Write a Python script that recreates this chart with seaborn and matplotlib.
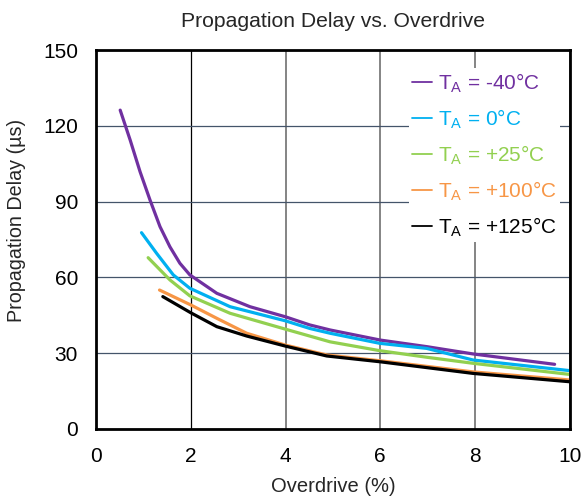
import numpy as np
import pandas as pd
import seaborn as sns
import matplotlib
matplotlib.use("Agg")
import matplotlib.pyplot as plt

# ---- data ----
x_m40 = [0.51, 0.72, 0.93, 1.14, 1.35, 1.56, 1.77, 1.98, 2.55, 3.25, 4.0, 4.51, 4.94, 6.0, 6.98, 7.96, 9.68]
y_m40 = [126.2, 114.4, 101.8, 90.6, 80.1, 72.1, 65.6, 61.0, 53.7, 48.4, 44.4, 41.2, 39.2, 35.2, 32.6, 29.7, 25.6]

x_0 = [0.96, 1.28, 1.63, 1.98, 2.83, 4.0, 4.51, 4.94, 5.99, 6.98, 7.96, 10.0]
y_0 = [77.7, 69.5, 61.0, 55.7, 48.4, 42.8, 39.8, 37.9, 33.9, 31.9, 27.3, 23.1]

x_25 = [1.10, 1.56, 1.98, 2.83, 4.0, 4.94, 5.99, 6.98, 7.96, 10.0]
y_25 = [67.8, 59.0, 52.7, 45.8, 39.5, 34.5, 31.0, 28.4, 26.0, 21.6]

x_100 = [1.34, 2.0, 2.55, 3.18, 4.0, 4.87, 6.0, 7.96, 10.0]
y_100 = [55.0, 49.1, 43.8, 37.9, 33.2, 29.3, 27.0, 22.6, 19.4]

x_125 = [1.41, 2.0, 2.55, 3.18, 4.0, 4.87, 6.0, 7.96, 10.0]
y_125 = [52.4, 46.0, 40.5, 36.8, 32.8, 28.9, 26.6, 22.0, 18.7]

labels = [r"T$_\mathregular{A}$ = -40°C", r"T$_\mathregular{A}$ = 0°C",
          r"T$_\mathregular{A}$ = +25°C", r"T$_\mathregular{A}$ = +100°C",
          r"T$_\mathregular{A}$ = +125°C"]
colors = ["#7030A0", "#00B0F0", "#92D050", "#F79646", "#000000"]
xticks = [0, 2, 4, 6, 8, 10]
yticks = [0, 30, 60, 90, 120, 150]

series = [(x_m40, y_m40), (x_0, y_0), (x_25, y_25), (x_100, y_100), (x_125, y_125)]
frames = []
for lab, (xs, ys) in zip(labels, series):
    frames.append(pd.DataFrame({"x": xs, "y": ys, "T": lab}))
df = pd.concat(frames, ignore_index=True)

sns.set_theme(style="white")
plt.rcParams["font.family"] = ["Liberation Sans", "DejaVu Sans"]
plt.rcParams["mathtext.fontset"] = "custom"
plt.rcParams["mathtext.rm"] = "Liberation Sans"

fig = plt.figure(figsize=(5.82, 5.00), dpi=100)
ax = fig.add_axes([0.165, 0.142, 0.814, 0.758])

sns.lineplot(data=df, x="x", y="y", hue="T", hue_order=labels,
             palette=colors, linewidth=2.3, sort=False, estimator=None,
             ax=ax, legend=True)

ax.set_xlim(0, 10)
ax.set_ylim(0, 150)
ax.set_xticks(xticks)
ax.set_yticks(yticks)
ax.tick_params(axis="both", length=0, labelsize=15, colors="black")
ax.tick_params(axis="y", pad=13)
ax.tick_params(axis="x", pad=13)

ax.grid(True, axis="y", color="#44546A", linewidth=0.9)
ax.grid(True, axis="x", color="#707070", linewidth=1.2)
gl = ax.xaxis.get_gridlines()
if len(gl) > 1:
    gl[1].set_color("black")
    gl[1].set_linewidth(0.9)
ax.set_axisbelow(True)

for s in ax.spines.values():
    s.set_color("black")
    s.set_linewidth(2.0)

ax.set_xlabel("Overdrive (%)", fontsize=14.5)
ax.set_ylabel("Propagation Delay (µs)", fontsize=14.2)
ax.xaxis.set_label_coords(0.5, -0.127)
ax.yaxis.set_label_coords(-0.148, 0.551)
ax.set_title("Propagation Delay vs. Overdrive", fontsize=15.2, y=1.0607, pad=0)

handles, labs = ax.get_legend_handles_labels()
leg = ax.legend(handles, labs, loc="upper right", fontsize=15,
                bbox_to_anchor=(0.979, 0.9525), borderaxespad=0.0,
                borderpad=0.15, handlelength=0.96, handletextpad=0.3,
                labelspacing=0.6, frameon=True, facecolor="white",
                edgecolor="none", framealpha=1.0, labelcolor="linecolor")
for h in leg.legend_handles:
    h.set_linewidth(1.3)

fig.savefig("out.png", dpi=100)
